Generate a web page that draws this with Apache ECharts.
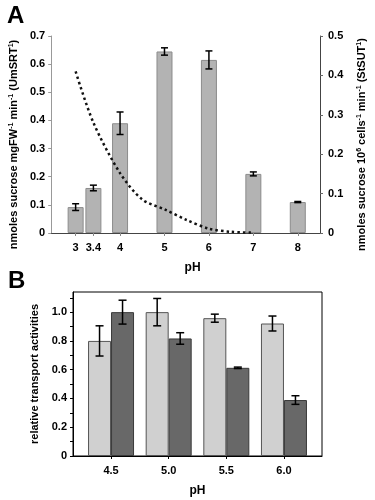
<!DOCTYPE html>
<html>
<head>
<meta charset="utf-8">
<script src="https://cdn.jsdelivr.net/npm/echarts@6/dist/echarts.min.js"></script>
<style>
  html, body { margin: 0; padding: 0; background: #fff; }
  #chart { width: 375px; height: 500px; }
</style>
</head>
<body>
<div id="chart"></div>
<script>
// panel A: UmSRT1 bars (left axis) and StSUT1 dotted curve (right axis)
const phA = [3, 3.4, 4, 5, 6, 7, 8]
const phLabelsA = [3, 3.4, 4, 5, 6, 7, 8]
const umsrt1 = [0.092, 0.16, 0.39, 0.645, 0.615, 0.21, 0.11]
const umsrt1Err = [0.012, 0.01, 0.04, 0.013, 0.032, 0.007, 0.002]
const phCurve = [3, 3.4, 4, 4.5, 5, 5.5, 6, 6.5, 7]
const stsut1 = [0.41, 0.28, 0.152, 0.085, 0.06, 0.033, 0.011, 0.003, 0.001]

// panel B: relative transport activities
const phB = [4.5, 5.0, 5.5, 6.0]
const lightB = [0.8, 1.0, 0.958, 0.921]
const lightErr = [0.105, 0.095, 0.028, 0.052]
const darkB = [1.0, 0.817, 0.613, 0.389]
const darkErr = [0.083, 0.04, 0.005, 0.03]
const yLabelsB = [0, 0.2, 0.4, 0.6, 0.8, 1.0]
const yTicksB = [0, 0.1, 0.2, 0.3, 0.4, 0.5, 0.6, 0.7, 0.8, 0.9, 1.0, 1.1]

const FONT = 'Liberation Sans, Arial, sans-serif'
const labelStyle = { color: '#000', fontFamily: FONT, fontWeight: 'bold', fontSize: 11 }
const nameStyle = { color: '#000', fontFamily: FONT, fontWeight: 'bold', fontSize: 11 }
const supStyle = { fontFamily: FONT, fontWeight: 'bold', fontSize: 7, verticalAlign: 'top', color: '#000' }

// error bar drawn through the axis scales; shift = px offset of grouped bar
function errorBar(shift, cap) {
  return function (params, api) {
    const hi = api.coord([api.value(0), api.value(1)])
    const lo = api.coord([api.value(0), api.value(2)])
    const x = hi[0] + shift
    const st = { stroke: '#000', lineWidth: 1.5 }
    return {
      type: 'group',
      children: [
        { type: 'line', shape: { x1: x, y1: hi[1], x2: x, y2: lo[1] }, style: st },
        { type: 'line', shape: { x1: x - cap, y1: hi[1], x2: x + cap, y2: hi[1] }, style: st },
        { type: 'line', shape: { x1: x - cap, y1: lo[1], x2: x + cap, y2: lo[1] }, style: st }
      ]
    }
  }
}

const chart = echarts.init(document.getElementById('chart'))
chart.setOption({
  animation: false,
  title: [
    { text: 'A', left: 2, top: -1, textStyle: { fontFamily: FONT, fontWeight: 'bold', fontSize: 24, color: '#000' } },
    { text: 'B', left: 3, top: 264, textStyle: { fontFamily: FONT, fontWeight: 'bold', fontSize: 24, color: '#000' } }
  ],
  grid: [
    { left: 48, right: 53, top: 36, bottom: 267 },
    { left: 73, right: 53, top: 292, bottom: 44, show: true, borderColor: '#000', borderWidth: 1 }
  ],
  xAxis: [
    {
      type: 'value', gridIndex: 0, min: 2.45, max: 8.5,
      name: 'pH', nameLocation: 'middle', nameGap: 29,
      nameTextStyle: Object.assign({}, nameStyle, { fontSize: 12, padding: [0, 0, 0, 14] }),
      axisLine: { lineStyle: { color: '#888' } },
      axisTick: { length: 3, lineStyle: { color: '#888' }, customValues: phLabelsA },
      axisLabel: Object.assign({}, labelStyle, { margin: 9, customValues: phLabelsA }),
      splitLine: { show: false }
    },
    {
      type: 'value', gridIndex: 0, min: 2.45, max: 8.5, position: 'top',
      axisLine: { lineStyle: { color: '#444' } },
      axisTick: { show: false }, axisLabel: { show: false }, splitLine: { show: false }
    },
    {
      type: 'value', gridIndex: 1, min: 4.17, max: 6.33,
      name: 'pH', nameLocation: 'middle', nameGap: 29,
      nameTextStyle: Object.assign({}, nameStyle, { fontSize: 12 }),
      axisLine: { lineStyle: { color: '#000' } },
      axisTick: { length: 3, lineStyle: { color: '#000' }, customValues: phB },
      axisLabel: Object.assign({}, labelStyle, { margin: 9, customValues: phB, formatter: v => v.toFixed(1) }),
      splitLine: { show: false }
    }
  ],
  yAxis: [
    {
      type: 'value', gridIndex: 0, min: 0, max: 0.7, interval: 0.1,
      name: '{t|nmoles sucrose mgFW}{s|-1}{t| min}{s|-1}{t| (UmSRT}{s|1}{t|)}',
      nameLocation: 'middle', nameGap: 29, nameRotate: 90,
      nameTextStyle: Object.assign({}, nameStyle, { padding: [0, 20, 0, 0], rich: { t: nameStyle, s: supStyle } }),
      axisLine: { show: true, lineStyle: { color: '#999' } },
      axisTick: { show: true, length: 3, lineStyle: { color: '#999' } },
      axisLabel: Object.assign({}, labelStyle, { margin: 6 }),
      splitLine: { show: false }
    },
    {
      type: 'value', gridIndex: 0, min: 0, max: 0.5, interval: 0.1, position: 'right',
      name: '{t|nmoles sucrose 10}{s|6}{t| cells}{s|-1}{t| min}{s|-1}{t| (StSUT}{s|1}{t|)}',
      nameLocation: 'middle', nameGap: 36, nameRotate: 90,
      nameTextStyle: Object.assign({}, nameStyle, { padding: [0, 20, 0, 0], rich: { t: nameStyle, s: supStyle } }),
      axisLine: { show: true, lineStyle: { color: '#444' } },
      axisTick: { show: true, length: 3, lineStyle: { color: '#666' } },
      axisLabel: Object.assign({}, labelStyle, { margin: 8 }),
      splitLine: { show: false }
    },
    {
      type: 'value', gridIndex: 1, min: 0, max: 1.14,
      name: 'relative transport activities',
      nameLocation: 'middle', nameGap: 30, nameRotate: 90,
      nameTextStyle: Object.assign({}, nameStyle, { fontSize: 11 }),
      axisLine: { show: true, lineStyle: { color: '#000' } },
      axisTick: { show: true, length: 3, lineStyle: { color: '#000' }, customValues: yTicksB },
      axisLabel: Object.assign({}, labelStyle, { margin: 6, customValues: yLabelsB, formatter: v => v === 0 ? '0' : v.toFixed(1) }),
      splitLine: { show: false }
    }
  ],
  series: [
    {
      name: 'UmSRT1', type: 'bar', xAxisIndex: 0, yAxisIndex: 0, barWidth: 16,
      itemStyle: { color: '#b3b3b3', borderColor: '#8c8c8c', borderWidth: 1 },
      data: phA.map((p, i) => [p, umsrt1[i]])
    },
    {
      type: 'custom', xAxisIndex: 0, yAxisIndex: 0, z: 5,
      renderItem: errorBar(0, 3.5),
      data: phA.map((p, i) => [p, umsrt1[i] + umsrt1Err[i], umsrt1[i] - umsrt1Err[i]])
    },
    {
      name: 'StSUT1', type: 'line', xAxisIndex: 0, yAxisIndex: 1, smooth: 0.3,
      showSymbol: false, z: 6,
      lineStyle: { color: '#111', width: 2.5, type: [2.5, 3] },
      data: phCurve.map((p, i) => [p, stsut1[i]])
    },
    {
      type: 'bar', xAxisIndex: 2, yAxisIndex: 2, barWidth: 23, barGap: '0%',
      itemStyle: { color: '#d0d0d0', borderColor: '#555', borderWidth: 1 },
      data: phB.map((p, i) => [p, lightB[i]])
    },
    {
      type: 'bar', xAxisIndex: 2, yAxisIndex: 2, barWidth: 23, barGap: '0%',
      itemStyle: { color: '#686868', borderColor: '#3a3a3a', borderWidth: 1 },
      data: phB.map((p, i) => [p, darkB[i]])
    },
    {
      type: 'custom', xAxisIndex: 2, yAxisIndex: 2, z: 5,
      renderItem: errorBar(-11.5, 4),
      data: phB.map((p, i) => [p, lightB[i] + lightErr[i], lightB[i] - lightErr[i]])
    },
    {
      type: 'custom', xAxisIndex: 2, yAxisIndex: 2, z: 5,
      renderItem: errorBar(11.5, 4),
      data: phB.map((p, i) => [p, darkB[i] + darkErr[i], darkB[i] - darkErr[i]])
    }
  ]
})
</script>
</body>
</html>
